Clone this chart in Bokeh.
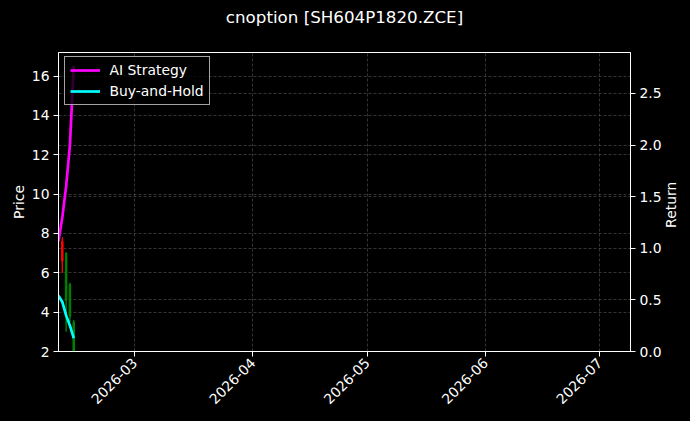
import math
import pandas as pd
from bokeh.plotting import figure
from bokeh.models import (Range1d, LinearAxis, Grid, FixedTicker, SingleIntervalTicker,
                          NumeralTickFormatter, ColumnDataSource, GlobalInlineStyleSheet, Title)
from bokeh.embed import file_html
from bokeh.resources import INLINE

# ---- data ----
title_text = "cnoption [SH604P1820.ZCE]"
candle_dates = ["2026-02-10", "2026-02-11", "2026-02-12", "2026-02-13"]
candle_open = [6.6, 7.0, 5.4, 3.5]
candle_high = [7.8, 7.05, 5.5, 3.6]
candle_low = [6.0, 3.0, 3.5, 1.8]
candle_close = [7.6, 4.6, 3.8, 2.0]

line_dates = ["2026-02-09", "2026-02-10", "2026-02-11", "2026-02-12", "2026-02-13"]
ai_strategy = [1.07, 1.30, 1.60, 2.00, 2.77]
buy_and_hold = [0.54, 0.48, 0.35, 0.25, 0.13]

tick_dates = ["2026-03-01", "2026-04-01", "2026-05-01", "2026-06-01", "2026-07-01"]
tick_labels = ["2026-03", "2026-04", "2026-05", "2026-06", "2026-07"]

x_start = "2026-02-09 00:00"
x_end = "2026-07-09 02:00"
price_range = (2.0, 17.2)
return_range = (0.0, 2.897)

FONT = "DejaVu Sans"
FS = "13.9px"
GRID = "#4a4a4a"

cd = pd.to_datetime(candle_dates)
up = [c >= o for o, c in zip(candle_open, candle_close)]
csrc = ColumnDataSource(dict(
    x=cd, open=candle_open, high=candle_high, low=candle_low, close=candle_close,
    top=[max(o, c) for o, c in zip(candle_open, candle_close)],
    bottom=[min(o, c) for o, c in zip(candle_open, candle_close)],
    color=["#ff0000" if u else "#008000" for u in up],
))
ld = pd.to_datetime(line_dates)

FW, FH = 572, 299
p = figure(width=690, height=421, x_axis_type="datetime",
           x_range=Range1d(pd.Timestamp(x_start), pd.Timestamp(x_end)),
           y_range=Range1d(*price_range),
           output_backend="svg", toolbar_location=None,
           min_border_left=58, min_border_right=60, min_border_top=52, min_border_bottom=70)
p.extra_y_ranges = {"ret": Range1d(*return_range)}

p.background_fill_color = "black"
p.border_fill_color = "black"
p.outline_line_color = "white"
p.outline_line_width = 1

# spacer between frame and title
p.add_layout(Title(text=" ", text_font_size="1px", standoff=20, text_color="black"), "above")

p.title.text = title_text
p.title.text_color = "white"
p.title.text_font = FONT
p.title.text_font_size = "16.7px"
p.title.text_font_style = "normal"
p.title.align = "center"
p.title.standoff = 6

# candles
p.segment(x0="x", y0="low", x1="x", y1="high", color="color", line_width=1.4, source=csrc)
p.vbar(x="x", width=0.4 * 86400000, top="top", bottom="bottom", fill_color="color",
       line_color="color", source=csrc)

# right axis
raxis = LinearAxis(y_range_name="ret")
p.add_layout(raxis, "right")

p.line(ld, ai_strategy, y_range_name="ret", line_color="#ff00ff", line_width=2.7,
       legend_label="AI Strategy")
p.line(ld, buy_and_hold, y_range_name="ret", line_color="#00ffff", line_width=2.7,
       legend_label="Buy-and-Hold")

# axes styling
xa = p.xaxis[0]
xa.ticker = FixedTicker(ticks=[pd.Timestamp(d).value / 1e6 for d in tick_dates])
xa.major_label_overrides = {pd.Timestamp(d).value / 1e6: l for d, l in zip(tick_dates, tick_labels)}
xa.major_label_orientation = math.pi / 4

ya = p.yaxis[0]
ya.ticker = SingleIntervalTicker(interval=2)
ya.axis_label = "Price"
raxis.ticker = SingleIntervalTicker(interval=0.5)
raxis.formatter = NumeralTickFormatter(format="0.0")

for ax in [xa, ya, raxis]:
    ax.axis_line_color = "white"
    ax.major_tick_line_color = "white"
    ax.minor_tick_line_color = None
    ax.major_tick_out = 5
    ax.major_tick_in = 0
    ax.major_label_standoff = 4
    ax.major_label_text_color = "white"
    ax.major_label_text_font = FONT
    ax.major_label_text_font_size = FS
    ax.axis_label_text_color = "white"
    ax.axis_label_text_font = FONT
    ax.axis_label_text_font_size = FS
    ax.axis_label_text_font_style = "normal"
ya.axis_label_standoff = 2
raxis.axis_label_standoff = 6
raxis.axis_label_orientation = math.pi / 2
if "axis_label_align" in raxis.properties():
    raxis.axis_label_align = "start"
    raxis.axis_label = "\u00a0" * 28 + "Return"
else:
    raxis.axis_label = "Return"

# grids
for g in [p.xgrid[0], p.ygrid[0]]:
    g.grid_line_color = GRID
    g.grid_line_dash = "3 2"
    g.grid_line_width = 0.7
p.xgrid[0].ticker = xa.ticker
p.ygrid[0].ticker = ya.ticker
rg = Grid(dimension=1, ticker=raxis.ticker, y_range_name="ret",
          grid_line_color=GRID, grid_line_dash="3 2", grid_line_width=0.7)
p.add_layout(rg)

# legend
lg = p.legend[0]
lg.location = (5.5, FH - 5.5 - 47)
lg.background_fill_color = "black"
lg.background_fill_alpha = 0.8
lg.border_line_color = "#cccccc"
lg.border_line_alpha = 0.8
lg.label_text_color = "white"
lg.label_text_font = FONT
lg.label_text_font_size = FS
lg.glyph_width = 30
lg.glyph_height = 14
lg.label_height = 14
lg.label_standoff = 10
lg.spacing = 5
lg.padding = 5
lg.margin = 0

p.stylesheets = [GlobalInlineStyleSheet(
    css="html, body { margin: 0; padding: 0; background-color: #000000; overflow: hidden; }")]

open("out.html", "w").write(file_html(p, INLINE))
